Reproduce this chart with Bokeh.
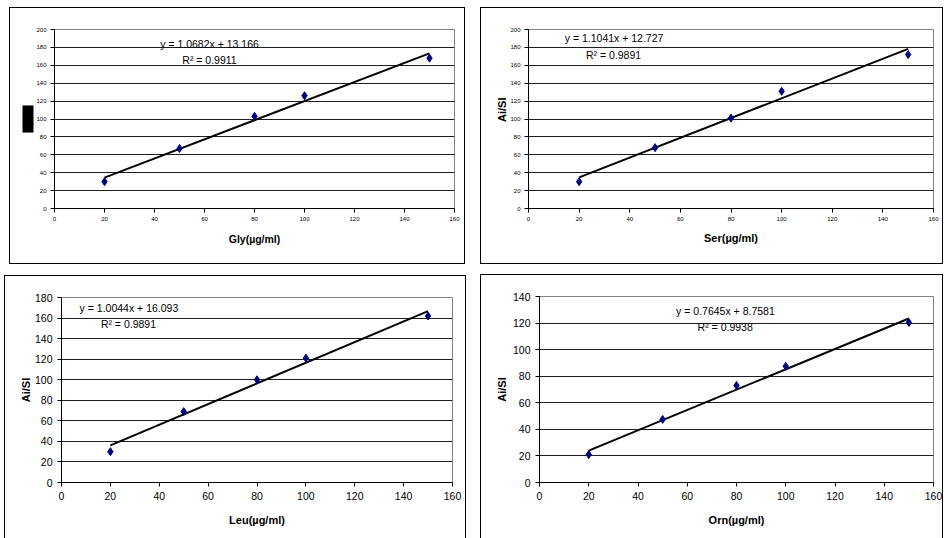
from bokeh.embed import file_html
from bokeh.layouts import column, row
from bokeh.models import FixedTicker, Label, Range1d, Title
from bokeh.plotting import figure
from bokeh.resources import INLINE

# concentrations (µg/ml) shared by all four calibration series
conc = [20, 50, 80, 100, 150]

gly_ratio = [30, 67, 103, 126, 168]
ser_ratio = [30, 68, 101, 131, 172]
leu_ratio = [30, 69, 100, 121, 162]
orn_ratio = [21, 47.5, 73, 87.5, 120.5]

# linear fits (slope, intercept, r²)
gly_fit = (1.0682, 13.166, 0.9911)
ser_fit = (1.1041, 12.727, 0.9891)
leu_fit = (1.0044, 16.093, 0.9891)
orn_fit = (0.7645, 8.7581, 0.9938)

x_ticks = [0, 20, 40, 60, 80, 100, 120, 140, 160]
y_title = "Ai/SI"

FONT = "Liberation Sans"


def panel(name, ys, fit, ymax, *, w, h, frame, margin, tick_px, label_px,
          eq_pos, r2_pos, ylabel=True, bottom_open=False, tick_standoff=4,
          xlabel_standoff=8, ylabel_standoff=8):
    left, right, top, bottom = frame
    border = {"border": "1px solid black", "box-sizing": "border-box"}
    if bottom_open:
        border["border-bottom"] = "none"
    p = figure(width=w, height=h, output_backend="svg", toolbar_location=None,
               x_range=Range1d(0, 160), y_range=Range1d(0, ymax),
               min_border_left=left, min_border_right=right,
               min_border_top=top, min_border_bottom=bottom,
               margin=margin, styles=border)
    p.outline_line_color = "#808080"
    p.outline_line_width = 1
    p.background_fill_color = "white"
    p.border_fill_color = "white"

    p.xgrid.visible = False
    p.ygrid.ticker = FixedTicker(ticks=list(range(0, ymax + 1, 20)))
    p.ygrid.grid_line_color = "#1e1e1e"
    p.ygrid.grid_line_width = 1

    p.xaxis.ticker = FixedTicker(ticks=x_ticks)
    p.yaxis.ticker = FixedTicker(ticks=list(range(0, ymax + 1, 20)))
    for ax in (p.xaxis[0], p.yaxis[0]):
        ax.axis_line_color = "black"
        ax.major_tick_line_color = "black"
        ax.major_tick_in = 0
        ax.major_tick_out = 4
        ax.minor_tick_line_color = None
        ax.major_label_text_font = FONT
        ax.major_label_text_font_size = f"{tick_px}px"
        ax.major_label_text_color = "black"
        ax.major_label_standoff = tick_standoff
        ax.axis_label_text_font = FONT
        ax.axis_label_text_font_style = "bold"
        ax.axis_label_text_font_size = f"{label_px}px"
        ax.axis_label_text_color = "black"

    p.xaxis.axis_label = f"{name}(µg/ml)"
    p.xaxis.axis_label_standoff = xlabel_standoff
    if ylabel:
        p.yaxis.axis_label = y_title
        p.yaxis.axis_label_standoff = ylabel_standoff

    slope, icpt, r2 = fit
    x_line = [conc[0], conc[-1]]
    p.line(x_line, [slope * x + icpt for x in x_line], line_color="black",
           line_width=2)
    p.scatter(conc, ys, marker="diamond", size=8, fill_color="#000080",
              line_color="#000080")

    sign = "+" if icpt >= 0 else "-"
    p.add_layout(Label(x=eq_pos[0], y=eq_pos[1],
                       text=f"y = {slope}x {sign} {abs(icpt)}",
                       text_font=FONT, text_font_size="10.5px",
                       text_align="center", text_baseline="middle",
                       text_color="black"))
    p.add_layout(Label(x=r2_pos[0], y=r2_pos[1], text=f"R² = {r2}",
                       text_font=FONT, text_font_size="10.5px",
                       text_align="center", text_baseline="middle",
                       text_color="black"))
    return p


p1 = panel("Gly", gly_ratio, gly_fit, 200, w=456, h=257,
           frame=(44, 12, 19, 57), margin=(7, 0, 0, 9), tick_px=6,
           label_px=10.5, eq_pos=(62, 183.4), r2_pos=(62, 165.8),
           ylabel=False, tick_standoff=4, xlabel_standoff=9)
# the y title of the first panel is blacked out
p1.add_layout(Title(text=y_title, align="center", text_font=FONT,
                    text_font_style="bold", text_font_size="9.5px",
                    text_color="black", background_fill_color="black",
                    padding=(3, 0), standoff=0), "left")

p2 = panel("Ser", ser_ratio, ser_fit, 200, w=463, h=257,
           frame=(47, 11, 21, 57), margin=(7, 0, 0, 15), tick_px=6,
           label_px=11, eq_pos=(33.8, 191), r2_pos=(33.6, 171.7),
           ylabel=False, tick_standoff=4, xlabel_standoff=8)
# the y title sits a little above the middle of the axis here
p2.add_layout(Title(text=y_title, align="right", offset=68,
                    text_font=FONT, text_font_style="bold",
                    text_font_size="11px", text_color="black",
                    standoff=0), "left")

p3 = panel("Leu", leu_ratio, leu_fit, 180, w=462, h=263,
           frame=(56, 15, 21, 57), margin=(11, 0, 0, 4), tick_px=10.5,
           label_px=11, eq_pos=(27.6, 169.3), r2_pos=(27.4, 154.7),
           bottom_open=True, tick_standoff=5, xlabel_standoff=11,
           ylabel_standoff=0)

p4 = panel("Orn", orn_ratio, orn_fit, 140, w=463, h=264,
           frame=(58, 11, 21, 56), margin=(10, 0, 0, 14), tick_px=10.5,
           label_px=11, eq_pos=(75.5, 128.8), r2_pos=(75.4, 117),
           bottom_open=True, tick_standoff=5, xlabel_standoff=11,
           ylabel_standoff=2)

layout = column(row(p1, p2), row(p3, p4))

open("out.html", "w").write(file_html(layout, INLINE))
